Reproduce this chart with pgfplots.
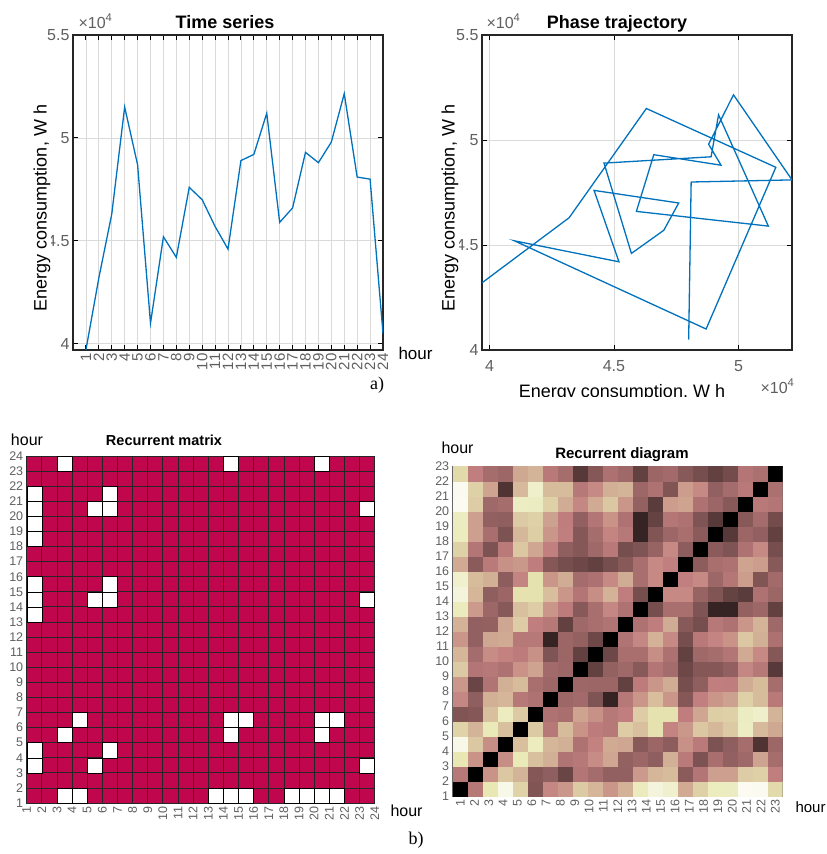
\documentclass[border=0pt]{standalone}
\usepackage{pgfplots}
\pgfplotsset{compat=1.18}
\usepackage{fontspec}
\setmainfont{Liberation Sans}
\newfontfamily\serif{Liberation Serif}
\definecolor{mblue}{rgb}{0,0.447,0.741}
\definecolor{rmred}{RGB}{192,6,76}
\definecolor{tickgray}{RGB}{95,95,95}
\definecolor{gridgray}{RGB}{218,218,218}
\pgfplotsset{
  colormap={matpink}{rgb=(0,0,0) rgb=(0.312,0.204,0.204) rgb=(0.441,0.289,0.289) rgb=(0.540,0.354,0.354) rgb=(0.624,0.408,0.408) rgb=(0.697,0.456,0.456) rgb=(0.764,0.5,0.5) rgb=(0.791,0.589,0.540) rgb=(0.816,0.667,0.577) rgb=(0.842,0.736,0.612) rgb=(0.866,0.799,0.645) rgb=(0.890,0.858,0.677) rgb=(0.913,0.913,0.707) rgb=(0.935,0.935,0.791) rgb=(0.957,0.957,0.866) rgb=(0.979,0.979,0.935) rgb=(1,1,1)},
  topax/.style={scale only axis, width=310pt, height=315pt, anchor=north west,
    axis line style={line width=1.1pt, black!85},
    tick style={black, line width=0.9pt}, major tick length=5pt, tick align=inside,
    grid=major, grid style={gridgray, line width=0.8pt},
    /pgf/number format/assume math mode=true,
    tick label style={font=\fontsize{16}{16}\selectfont, text=tickgray},
    ytick={40000,45000,50000,55000},
    yticklabels={4,4.5,5,5.5},
    scaled ticks=false,
  },
}
\begin{document}
\begin{tikzpicture}
\useasboundingbox (0,0) rectangle (827pt,-854pt);
\begin{scope}
\clip (0,0) rectangle (827pt,-396pt);
% ---------------- Time series
\begin{axis}[topax, at={(73pt,-35pt)},
  xmin=0, xmax=24, ymin=39700, ymax=55000,
  xtick={1,...,24},
  xticklabel style={rotate=90, anchor=east, font=\fontsize{15}{15}\selectfont},
]
\addplot[mblue, line width=1.3pt] coordinates {
(1,39700) (2,43200) (3,46300) (4,51500) (5,48700) (6,41000) (7,45200) (8,44200)
(9,47600) (10,47000) (11,45700) (12,44600) (13,48900) (14,49200) (15,51200) (16,45900)
(17,46600) (18,49300) (19,48800) (20,49800) (21,52150) (22,48100) (23,48000) (24,40500)};
\end{axis}
% ---------------- Phase trajectory
\begin{axis}[topax, at={(482pt,-35pt)},
  xmin=39700, xmax=52150, ymin=40000, ymax=55000,
  xtick={40000,45000,50000}, xticklabels={4,4.5,5},
  xticklabel style={yshift=-7pt},
]
\addplot[mblue, line width=1.3pt] coordinates {
(39700,43200) (43200,46300) (46300,51500) (51500,48700) (48700,41000) (41000,45200)
(45200,44200) (44200,47600) (47600,47000) (47000,45700) (45700,44600) (44600,48900)
(48900,49200) (49200,51200) (51200,45900) (45900,46600) (46600,49300) (49300,48800)
(48800,49800) (49800,52150) (52150,48100) (48100,48000) (48000,40500)};
\end{axis}
\node[rotate=90, fill=white, inner sep=0.5pt, font=\fontsize{18}{18}\selectfont] at (42pt,-208pt) {Energy consumption, W h};
\node[rotate=90, fill=white, inner sep=0.5pt, font=\fontsize{18}{18}\selectfont] at (450pt,-208pt) {Energy consumption, W h};
\node[anchor=base, font=\fontsize{18}{18}\selectfont] at (622pt,-397pt) {Energy consumption, W h};
\node[anchor=base west, font=\fontsize{16}{16}\selectfont, text=tickgray] at (757pt,-393pt) {×10\textsuperscript{4}};
\end{scope}
\node[anchor=base, font=\fontsize{18}{18}\selectfont\bfseries] at (225pt,-28pt) {Time series};
\node[anchor=base west, font=\fontsize{16}{16}\selectfont, text=tickgray] at (75pt,-28pt) {×10\textsuperscript{4}};
\node[anchor=base west, font=\fontsize{17}{17}\selectfont] at (395pt,-359pt) {hour};
\node[anchor=base, font=\fontsize{18}{18}\selectfont\bfseries] at (617pt,-28pt) {Phase trajectory};
\node[anchor=base west, font=\fontsize{16}{16}\selectfont, text=tickgray] at (483pt,-28pt) {×10\textsuperscript{4}};
\node[anchor=base, font=\serif\fontsize{18}{18}\selectfont] at (377pt,-389pt) {a)};
% ---------------- Recurrent matrix
\begin{axis}[scale only axis, width=348pt, height=347pt, at={(26.7pt,-456pt)}, anchor=north west,
  xmin=1, xmax=24, ymin=1, ymax=24, xtick={1,...,24}, ytick={1,...,24},
  axis background/.style={fill=rmred},
  grid=major, grid style={black!85, line width=0.8pt}, axis on top,
  major tick length=0pt, axis line style={black!85, line width=0.8pt},
  /pgf/number format/assume math mode=true,
  tick label style={font=\fontsize{12.5}{12.5}\selectfont, text=tickgray},
  xticklabel style={rotate=90, anchor=east},
]
\addplot[only marks, mark=square*, mark size=7.55pt, mark options={fill=white, draw=none}] coordinates {
(1.5,3.5) (3.5,1.5) (1.5,4.5) (4.5,1.5) (1.5,13.5) (13.5,1.5) (1.5,14.5) (14.5,1.5)
(1.5,15.5) (15.5,1.5) (1.5,18.5) (18.5,1.5) (1.5,19.5) (19.5,1.5) (1.5,20.5) (20.5,1.5)
(1.5,21.5) (21.5,1.5) (3.5,5.5) (5.5,3.5) (3.5,23.5) (23.5,3.5) (4.5,6.5) (6.5,4.5)
(5.5,14.5) (14.5,5.5) (5.5,20.5) (20.5,5.5) (6.5,14.5) (14.5,6.5) (6.5,15.5) (15.5,6.5)
(6.5,20.5) (20.5,6.5) (6.5,21.5) (21.5,6.5) (14.5,23.5) (23.5,14.5) (20.5,23.5) (23.5,20.5)};
\end{axis}
% ---------------- Recurrent diagram
\begin{axis}[scale only axis, width=330pt, height=330pt, at={(452.7pt,-466pt)}, anchor=north west,
  xmin=0.5, xmax=22.5, ymin=0.5, ymax=22.5,
  colormap name=matpink, point meta min=0, point meta max=1.42,
  xtick={1,1.9545,2.9091,3.8636,4.8182,5.7727,6.7273,7.6818,8.6364,9.5909,10.5455,11.5,12.4545,13.4091,14.3636,15.3182,16.2727,17.2273,18.1818,19.1364,20.0909,21.0455,22},
  xticklabels={1,2,3,4,5,6,7,8,9,10,11,12,13,14,15,16,17,18,19,20,21,22,23},
  ytick={0.5,1.5,2.5,3.5,4.5,5.5,6.5,7.5,8.5,9.5,10.5,11.5,12.5,13.5,14.5,15.5,16.5,17.5,18.5,19.5,20.5,21.5,22.5},
  yticklabels={1,2,3,4,5,6,7,8,9,10,11,12,13,14,15,16,17,18,19,20,21,22,23},
  major tick length=0pt, axis line style={black!60, line width=0.6pt},
  tick label style={font=\fontsize{12.5}{12.5}\selectfont, text=tickgray},
  xticklabel style={rotate=90, anchor=east},
]
\addplot[matrix plot*, mesh/cols=22, point meta=explicit] table[row sep=\\, x=x, y=y, meta=c] {
x y c\\
1 1 0\\2 1 0.47\\3 1 1.06\\4 1 1.30\\5 1 0.93\\6 1 0.24\\7 1 0.56\\8 1 0.63\\9 1 0.88\\10 1 0.77\\11 1 0.62\\12 1 0.75\\13 1 1.10\\14 1 1.24\\15 1 1.18\\16 1 0.71\\17 1 0.92\\18 1 1.11\\19 1 1.12\\20 1 1.35\\21 1 1.34\\22 1 0.97\\
1 2 0.47\\2 2 0\\3 2 0.61\\4 2 0.86\\5 2 0.76\\6 2 0.25\\7 2 0.29\\8 2 0.16\\9 2 0.45\\10 2 0.38\\11 2 0.30\\12 2 0.30\\13 2 0.64\\14 2 0.77\\15 2 0.80\\16 2 0.27\\17 2 0.45\\18 2 0.66\\19 2 0.66\\20 2 0.89\\21 2 0.92\\22 2 0.52\\
1 3 1.06\\2 3 0.61\\3 3 0\\4 3 0.59\\5 3 1.08\\6 3 0.82\\7 3 0.74\\8 3 0.44\\9 3 0.47\\10 3 0.58\\11 3 0.69\\12 3 0.31\\13 3 0.35\\14 3 0.29\\15 3 0.74\\16 3 0.49\\17 3 0.22\\18 3 0.40\\19 3 0.30\\20 3 0.36\\21 3 0.68\\22 3 0.39\\
1 4 1.30\\2 4 0.86\\3 4 0.59\\4 4 0\\5 4 0.82\\6 4 1.11\\7 4 0.77\\8 4 0.74\\9 4 0.43\\10 4 0.54\\11 4 0.71\\12 4 0.69\\13 4 0.26\\14 4 0.34\\15 4 0.28\\16 4 0.60\\17 4 0.49\\18 4 0.22\\19 4 0.29\\20 4 0.39\\21 4 0.09\\22 4 0.35\\
1 5 0.93\\2 5 0.76\\3 5 1.08\\4 5 0.82\\5 5 0\\6 5 0.88\\7 5 0.47\\8 5 0.80\\9 5 0.61\\10 5 0.50\\11 5 0.47\\12 5 0.89\\13 5 0.82\\14 5 1.02\\15 5 0.55\\16 5 0.63\\17 5 0.86\\18 5 0.78\\19 5 0.88\\20 5 1.13\\21 5 0.79\\22 5 0.70\\
1 6 0.24\\2 6 0.25\\3 6 0.82\\4 6 1.11\\5 6 0.88\\6 6 0\\7 6 0.43\\8 6 0.40\\9 6 0.68\\10 6 0.60\\11 6 0.47\\12 6 0.52\\13 6 0.89\\14 6 1.02\\15 6 1.02\\16 6 0.51\\17 6 0.69\\18 6 0.90\\19 6 0.91\\20 6 1.12\\21 6 1.16\\22 6 0.76\\
1 7 0.56\\2 7 0.29\\3 7 0.74\\4 7 0.77\\5 7 0.47\\6 7 0.43\\7 7 0\\8 7 0.35\\9 7 0.37\\10 7 0.23\\11 7 0.06\\12 7 0.47\\13 7 0.62\\14 7 0.81\\15 7 0.62\\16 7 0.25\\17 7 0.53\\18 7 0.62\\19 7 0.67\\20 7 0.92\\21 7 0.80\\22 7 0.48\\
1 8 0.63\\2 8 0.16\\3 8 0.44\\4 8 0.74\\5 8 0.80\\6 8 0.40\\7 8 0.35\\8 8 0\\9 8 0.35\\10 8 0.34\\11 8 0.34\\12 8 0.14\\13 8 0.50\\14 8 0.62\\15 8 0.72\\16 8 0.20\\17 8 0.29\\18 8 0.52\\19 8 0.51\\20 8 0.72\\21 8 0.80\\22 8 0.39\\
1 9 0.88\\2 9 0.45\\3 9 0.47\\4 9 0.43\\5 9 0.61\\6 9 0.68\\7 9 0.37\\8 9 0.35\\9 9 0\\10 9 0.14\\11 9 0.31\\12 9 0.36\\13 9 0.26\\14 9 0.45\\15 9 0.38\\16 9 0.17\\17 9 0.25\\18 9 0.25\\19 9 0.30\\20 9 0.56\\21 9 0.47\\22 9 0.11\\
1 10 0.77\\2 10 0.38\\3 10 0.58\\4 10 0.54\\5 10 0.50\\6 10 0.60\\7 10 0.23\\8 10 0.34\\9 10 0.14\\10 10 0\\11 10 0.17\\12 10 0.40\\13 10 0.40\\14 10 0.59\\15 10 0.42\\16 10 0.14\\17 10 0.36\\18 10 0.39\\19 10 0.45\\20 10 0.71\\21 10 0.57\\22 10 0.25\\
1 11 0.62\\2 11 0.30\\3 11 0.69\\4 11 0.71\\5 11 0.47\\6 11 0.47\\7 11 0.06\\8 11 0.34\\9 11 0.31\\10 11 0.17\\11 11 0\\12 11 0.44\\13 11 0.56\\14 11 0.75\\15 11 0.57\\16 11 0.20\\17 11 0.48\\18 11 0.55\\19 11 0.61\\20 11 0.86\\21 11 0.74\\22 11 0.42\\
1 12 0.75\\2 12 0.30\\3 12 0.31\\4 12 0.69\\5 12 0.89\\6 12 0.52\\7 12 0.47\\8 12 0.14\\9 12 0.36\\10 12 0.40\\11 12 0.44\\12 12 0\\13 12 0.43\\14 12 0.51\\15 12 0.72\\16 12 0.26\\17 12 0.20\\18 12 0.47\\19 12 0.43\\20 12 0.62\\21 12 0.76\\22 12 0.36\\
1 13 1.10\\2 13 0.64\\3 13 0.35\\4 13 0.26\\5 13 0.82\\6 13 0.89\\7 13 0.62\\8 13 0.50\\9 13 0.26\\10 13 0.40\\11 13 0.56\\12 13 0.43\\13 13 0\\14 13 0.20\\15 13 0.40\\16 13 0.40\\17 13 0.23\\18 13 0.06\\19 13 0.06\\20 13 0.31\\21 13 0.35\\22 13 0.14\\
1 14 1.24\\2 14 0.77\\3 14 0.29\\4 14 0.34\\5 14 1.02\\6 14 1.02\\7 14 0.81\\8 14 0.62\\9 14 0.45\\10 14 0.59\\11 14 0.75\\12 14 0.51\\13 14 0.20\\14 14 0\\15 14 0.57\\16 14 0.57\\17 14 0.32\\18 14 0.24\\19 14 0.15\\20 14 0.12\\21 14 0.43\\22 14 0.34\\
1 15 1.18\\2 15 0.80\\3 15 0.74\\4 15 0.28\\5 15 0.55\\6 15 1.02\\7 15 0.62\\8 15 0.72\\9 15 0.38\\10 15 0.42\\11 15 0.57\\12 15 0.72\\13 15 0.40\\14 15 0.57\\15 15 0\\16 15 0.53\\17 15 0.57\\18 15 0.35\\19 15 0.46\\20 15 0.65\\21 15 0.24\\22 15 0.37\\
1 16 0.71\\2 16 0.27\\3 16 0.49\\4 16 0.60\\5 16 0.63\\6 16 0.51\\7 16 0.25\\8 16 0.20\\9 16 0.17\\10 16 0.14\\11 16 0.20\\12 16 0.26\\13 16 0.40\\14 16 0.57\\15 16 0.53\\16 16 0\\17 16 0.28\\18 16 0.40\\19 16 0.43\\20 16 0.68\\21 16 0.65\\22 16 0.26\\
1 17 0.92\\2 17 0.45\\3 17 0.22\\4 17 0.49\\5 17 0.86\\6 17 0.69\\7 17 0.53\\8 17 0.29\\9 17 0.25\\10 17 0.36\\11 17 0.48\\12 17 0.20\\13 17 0.23\\14 17 0.32\\15 17 0.57\\16 17 0.28\\17 17 0\\18 17 0.27\\19 17 0.23\\20 17 0.43\\21 17 0.57\\22 17 0.20\\
1 18 1.11\\2 18 0.66\\3 18 0.40\\4 18 0.22\\5 18 0.78\\6 18 0.90\\7 18 0.62\\8 18 0.52\\9 18 0.25\\10 18 0.39\\11 18 0.55\\12 18 0.47\\13 18 0.06\\14 18 0.24\\15 18 0.35\\16 18 0.40\\17 18 0.27\\18 18 0\\19 18 0.11\\20 18 0.34\\21 18 0.30\\22 18 0.14\\
1 19 1.12\\2 19 0.66\\3 19 0.30\\4 19 0.29\\5 19 0.88\\6 19 0.91\\7 19 0.67\\8 19 0.51\\9 19 0.30\\10 19 0.45\\11 19 0.61\\12 19 0.43\\13 19 0.06\\14 19 0.15\\15 19 0.46\\16 19 0.43\\17 19 0.23\\18 19 0.11\\19 19 0\\20 19 0.26\\21 19 0.38\\22 19 0.19\\
1 20 1.35\\2 20 0.89\\3 20 0.36\\4 20 0.39\\5 20 1.13\\6 20 1.12\\7 20 0.92\\8 20 0.72\\9 20 0.56\\10 20 0.71\\11 20 0.86\\12 20 0.62\\13 20 0.31\\14 20 0.12\\15 20 0.65\\16 20 0.68\\17 20 0.43\\18 20 0.34\\19 20 0.26\\20 20 0\\21 20 0.48\\22 20 0.45\\
1 21 1.34\\2 21 0.92\\3 21 0.68\\4 21 0.09\\5 21 0.79\\6 21 1.16\\7 21 0.80\\8 21 0.80\\9 21 0.47\\10 21 0.57\\11 21 0.74\\12 21 0.76\\13 21 0.35\\14 21 0.43\\15 21 0.24\\16 21 0.65\\17 21 0.57\\18 21 0.30\\19 21 0.38\\20 21 0.48\\21 21 0\\22 21 0.41\\
1 22 0.97\\2 22 0.52\\3 22 0.39\\4 22 0.35\\5 22 0.70\\6 22 0.76\\7 22 0.48\\8 22 0.39\\9 22 0.11\\10 22 0.25\\11 22 0.42\\12 22 0.36\\13 22 0.14\\14 22 0.34\\15 22 0.37\\16 22 0.26\\17 22 0.20\\18 22 0.14\\19 22 0.19\\20 22 0.45\\21 22 0.41\\22 22 0\\
};
\end{axis}
\node[anchor=base, font=\fontsize{16}{16}\selectfont] at (27pt,-445pt) {hour};
\node[anchor=base, font=\fontsize{14.5}{14.5}\selectfont\bfseries] at (164pt,-445pt) {Recurrent matrix};
\node[anchor=base west, font=\fontsize{16}{16}\selectfont] at (387pt,-816pt) {hour};
\node[anchor=base west, font=\fontsize{16}{16}\selectfont] at (438pt,-453pt) {hour};
\node[anchor=base, font=\fontsize{15}{15}\selectfont\bfseries] at (622pt,-458pt) {Recurrent diagram};
\node[anchor=base west, font=\fontsize{15}{15}\selectfont] at (792pt,-812pt) {hour};
\node[anchor=base, font=\serif\fontsize{18}{18}\selectfont] at (416pt,-844pt) {b)};
\end{tikzpicture}
\end{document}
